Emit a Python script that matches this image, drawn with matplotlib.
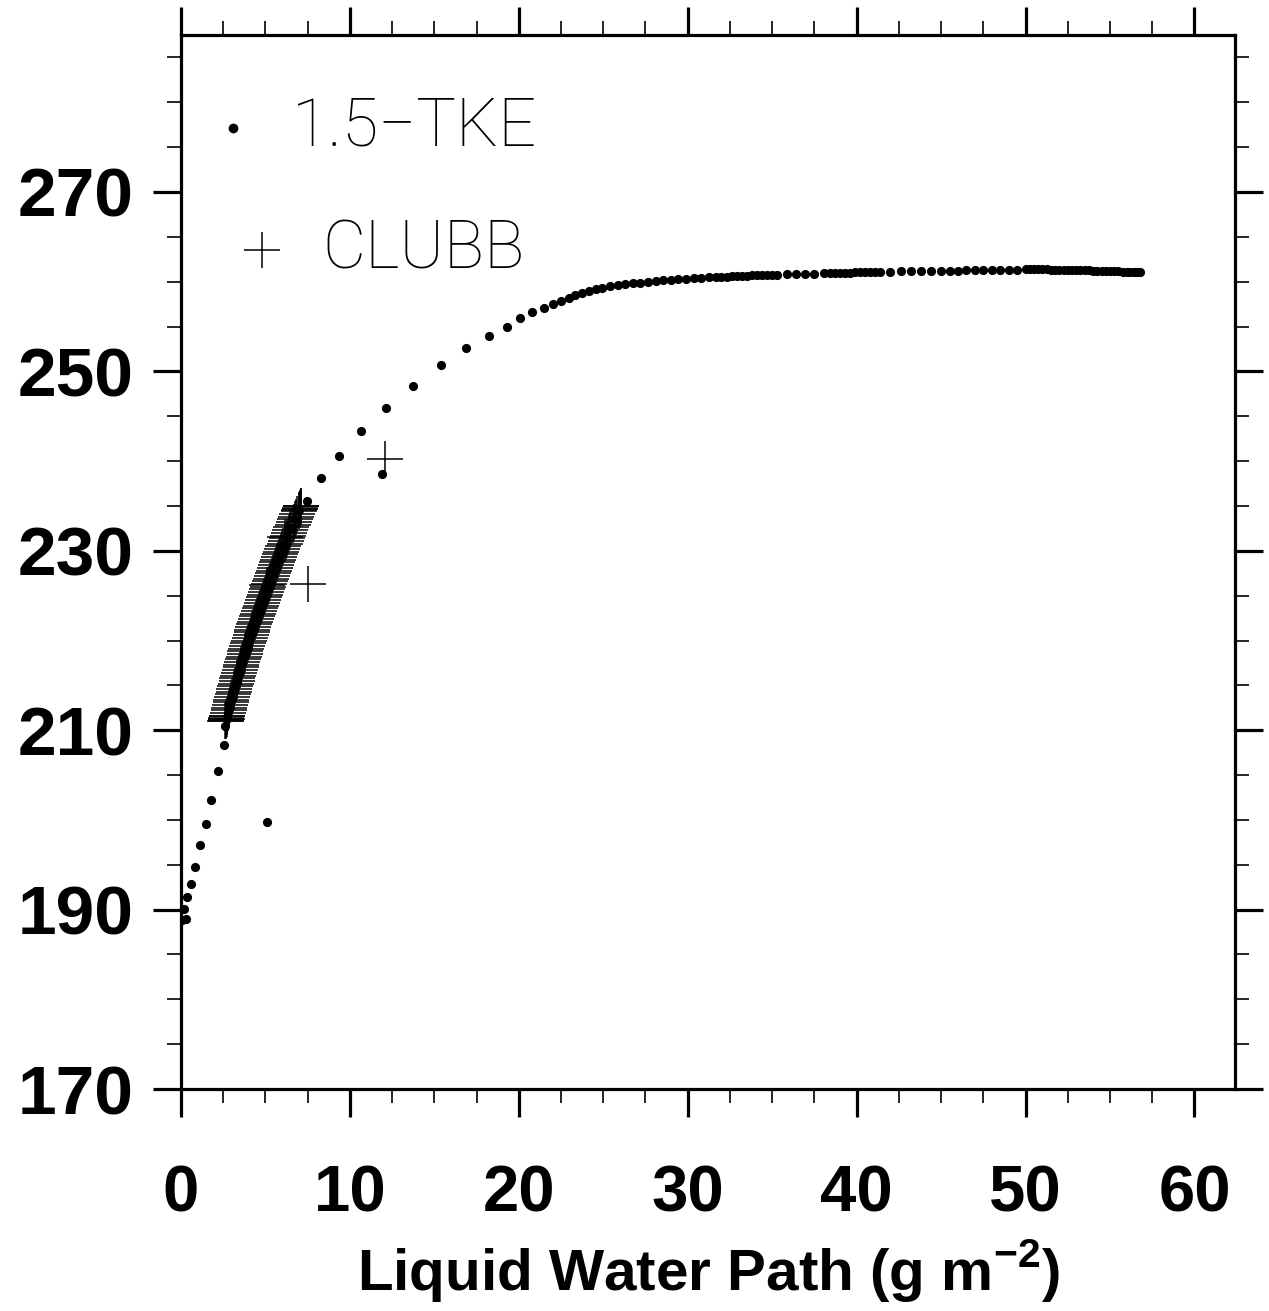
import numpy as np
import matplotlib
matplotlib.use("Agg")
import matplotlib.pyplot as plt

plt.rcParams['font.family'] = ['Liberation Sans', 'DejaVu Sans']
plt.rcParams['mathtext.fontset'] = 'custom'
plt.rcParams['mathtext.rm'] = 'Liberation Sans'
plt.rcParams['mathtext.bf'] = 'Liberation Sans:bold'

# ---- 1.5-TKE (dots) ----
# spin-up
tke_x0 = [0.0, 0.05, 0.3, 0.18, 0.38, 0.57, 0.85, 1.12, 1.46, 1.80, 2.21, 2.54]
tke_y0 = [188.8, 188.9, 189.0, 190.1, 191.4, 192.9, 194.8, 197.2, 199.6, 202.2, 205.5, 208.4]
# under the CLUBB band
tke_x1 = [2.59, 2.73, 2.86, 3.00, 3.15, 3.30, 3.45, 3.61, 3.77, 3.94, 4.11, 4.29, 4.47,
          4.65, 4.84, 5.04, 5.23, 5.44, 5.64, 5.86, 6.07, 6.29, 6.52, 6.75, 6.98]
tke_y1 = [210.5, 211.5, 212.5, 213.5, 214.5, 215.5, 216.5, 217.5, 218.5, 219.5, 220.5, 221.5, 222.5,
          223.5, 224.5, 225.5, 226.5, 227.5, 228.5, 229.5, 230.5, 231.5, 232.5, 233.5, 234.5]
# upper branch
tke_x2 = [7.47, 8.30, 9.33, 10.63, 12.11, 13.75, 15.40, 16.90, 18.24, 19.32, 20.10, 20.80,
          21.50, 22.00, 22.50, 22.95, 23.35, 23.75, 24.15, 24.55, 24.95, 25.40, 25.85, 26.30,
          26.75, 27.20, 27.65, 28.10, 28.55, 29.00, 29.45, 29.90, 30.35, 30.80, 31.25, 31.70,
          32.0, 32.3, 32.6, 32.9, 33.2, 33.5, 33.8, 34.1, 34.4, 34.7, 35.0, 35.3,
          35.85, 36.4, 36.95, 37.5, 38.05,
          38.4, 38.7, 39.0, 39.3, 39.6, 39.9, 40.2, 40.5, 40.8, 41.1, 41.4,
          42.0, 42.6, 43.2, 43.8, 44.4, 45.0,
          45.5, 46.0, 46.5, 47.0, 47.5, 48.0, 48.5, 49.0, 49.5,
          50.0, 50.25, 50.5, 50.75, 51.0, 51.25, 51.5, 51.75, 52.0, 52.25, 52.5, 52.75,
          53.0, 53.25, 53.5, 53.75, 54.0, 54.25, 54.5, 54.75, 55.0, 55.25, 55.5, 55.75,
          56.0, 56.2, 56.4, 56.6, 56.75]
tke_y2 = [235.6, 238.1, 240.6, 243.4, 245.9, 248.4, 250.7, 252.6, 254.0, 255.0, 255.9, 256.6,
          257.1, 257.5, 257.8, 258.2, 258.5, 258.75, 259.0, 259.2, 259.35, 259.5, 259.6, 259.7,
          259.8, 259.9, 260.0, 260.1, 260.15, 260.2, 260.3, 260.35, 260.4, 260.45, 260.5, 260.5,
          260.55, 260.55, 260.6, 260.6, 260.65, 260.65, 260.7, 260.7, 260.75, 260.75, 260.8, 260.8,
          260.85, 260.85, 260.9, 260.9, 260.95,
          260.95, 261.0, 261.0, 261.0, 261.0, 261.05, 261.05, 261.05, 261.1, 261.1, 261.1,
          261.1, 261.15, 261.15, 261.15, 261.15, 261.2,
          261.2, 261.2, 261.25, 261.25, 261.3, 261.3, 261.35, 261.35, 261.35,
          261.4, 261.4, 261.4, 261.4, 261.4, 261.4, 261.35, 261.35, 261.35, 261.3, 261.3, 261.3,
          261.3, 261.25, 261.25, 261.25, 261.2, 261.2, 261.2, 261.2, 261.15, 261.15, 261.15, 261.1,
          261.1, 261.1, 261.05, 261.05, 261.05]
# stray points
tke_x3 = [5.09, 11.91]
tke_y3 = [199.8, 238.6]

# ---- CLUBB (plus signs) ----
clubb_x = [2.62, 2.64, 2.66, 2.68, 2.70,
           2.66, 2.70, 2.74, 2.78, 2.82, 2.86, 2.90, 2.95, 2.99, 3.03, 3.07, 3.12, 3.16, 3.21,
           3.25, 3.30, 3.34, 3.39, 3.44, 3.48, 3.53, 3.58, 3.63, 3.67, 3.72, 3.77, 3.82, 3.87,
           3.92, 3.97, 4.03, 4.08, 4.13, 4.18, 4.23, 4.29, 4.34, 4.40, 4.45, 4.50, 4.56, 4.62,
           4.67, 4.73, 4.79, 4.84, 4.90, 4.96, 5.02, 5.08, 5.14, 5.19, 5.25, 5.32, 5.38, 5.44,
           5.50, 5.56, 5.62, 5.69, 5.75, 5.81, 5.88, 5.94, 6.01, 6.07, 6.14, 6.20, 6.27, 6.34,
           6.40, 6.47, 6.54, 6.61, 6.68, 6.75, 6.82, 6.89, 6.96, 7.03, 7.10,
           7.00, 7.05, 7.08,
           5.10, 6.15, 7.50, 12.05]
clubb_y = [211.0, 211.1, 211.2, 211.4, 211.6,
           211.0, 211.3, 211.6, 211.9, 212.2, 212.5, 212.8, 213.1, 213.4, 213.7, 214.0, 214.3, 214.6, 214.9,
           215.2, 215.5, 215.8, 216.1, 216.4, 216.7, 217.0, 217.3, 217.6, 217.9, 218.2, 218.5, 218.8, 219.1,
           219.4, 219.7, 220.0, 220.3, 220.6, 220.9, 221.2, 221.5, 221.8, 222.1, 222.4, 222.7, 223.0, 223.3,
           223.6, 223.9, 224.2, 224.5, 224.8, 225.1, 225.4, 225.7, 226.0, 226.3, 226.6, 226.9, 227.2, 227.5,
           227.8, 228.1, 228.4, 228.7, 229.0, 229.3, 229.6, 229.9, 230.2, 230.5, 230.8, 231.1, 231.4, 231.7,
           232.0, 232.3, 232.6, 232.9, 233.2, 233.5, 233.8, 234.1, 234.4, 234.7, 235.0,
           234.6, 234.8, 235.0,
           226.2, 231.5, 226.3, 240.2]

fig = plt.figure(figsize=(12.69, 13.11), dpi=100)
ax = fig.add_axes([0.1426, 0.1693, 0.8306, 0.804])

tke_x = tke_x0 + tke_x1 + tke_x2 + tke_x3
tke_y = tke_y0 + tke_y1 + tke_y2 + tke_y3
ax.plot(tke_x, tke_y, linestyle='none', marker='o', markersize=6.6, color='black',
        markeredgewidth=0, zorder=2)
ax.plot(clubb_x, clubb_y, linestyle='none', marker='+', markersize=26, color='black',
        markeredgewidth=1.1, zorder=3)

ax.set_xlim(0, 62.4)
ax.set_ylim(170, 287.5)
ax.set_xticks(np.arange(0, 61, 10))
ax.set_xticks(np.arange(0, 62.4, 2.5), minor=True)
ax.set_yticks(np.arange(170, 271, 20))
ax.set_yticks(np.arange(170, 287.5, 5), minor=True)

for s in ax.spines.values():
    s.set_linewidth(2.3)
ax.tick_params(which='major', direction='out', length=20, width=2.3,
               top=True, right=True)
ax.tick_params(which='minor', direction='out', length=10, width=1.2,
               top=True, right=True)
ax.tick_params(axis='x', which='major', labelsize=47, pad=34)
ax.tick_params(axis='y', which='major', labelsize=50, pad=14)
for lab in ax.get_xticklabels() + ax.get_yticklabels():
    lab.set_fontweight('bold')

ax.set_xlabel('Liquid Water Path (g m$^{\\mathbf{-2}}$)', fontsize=42,
              fontweight='bold', labelpad=10)

# legend
thin = dict(family=['Roboto', 'DejaVu Sans'], fontweight=100, fontsize=48,
            va='center', ha='left', transform=ax.transAxes)
ax.plot([0.0493], [0.912], marker='o', markersize=6, color='black',
        linestyle='none', transform=ax.transAxes)
ax.text(0.105, 0.912, '1.5\u2212TKE', **thin)
ax.plot([0.0769], [0.796], marker='+', markersize=26, markeredgewidth=1.1,
        color='black', linestyle='none', transform=ax.transAxes)
ax.text(0.134, 0.796, 'CLUBB', **thin)

fig.savefig('out.png', dpi=100)
